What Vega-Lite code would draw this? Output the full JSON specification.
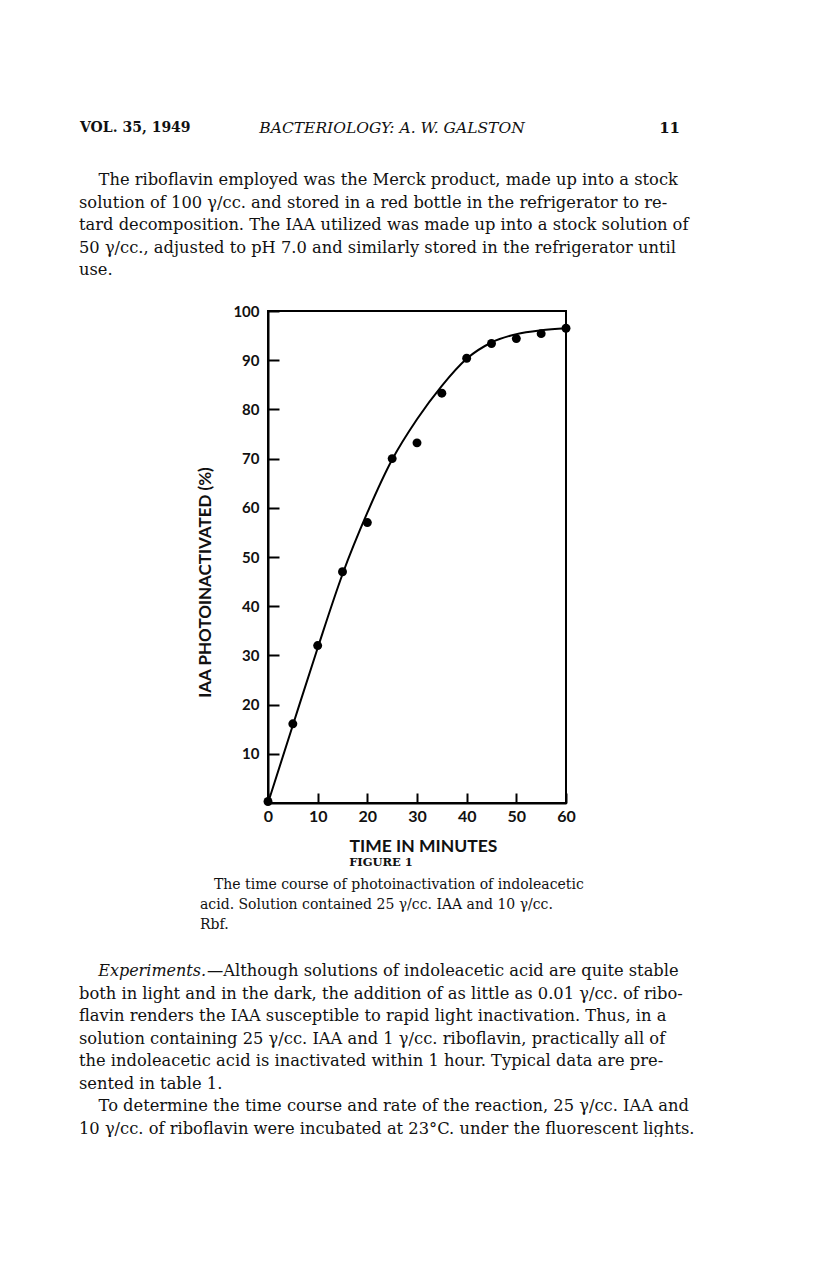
{
  "$schema": "https://vega.github.io/schema/vega-lite/v6.json",
  "width": 298,
  "height": 492,
  "padding": {"left": 79, "top": 121, "right": 0, "bottom": 0},
  "background": "white",
  "config": {
    "view": {"stroke": "black", "strokeWidth": 2},
    "text": {"color": "#111111", "baseline": "middle"}
  },
  "datasets": {
    "curve": [
      {"minutes": 0, "pct": 0},
      {"minutes": 5, "pct": 15.8},
      {"minutes": 10, "pct": 31.5},
      {"minutes": 15, "pct": 46.5},
      {"minutes": 20, "pct": 59},
      {"minutes": 25, "pct": 69.8},
      {"minutes": 30, "pct": 78},
      {"minutes": 35, "pct": 84.8},
      {"minutes": 40, "pct": 90.3},
      {"minutes": 45, "pct": 93.6},
      {"minutes": 50, "pct": 95.3},
      {"minutes": 55, "pct": 96.1},
      {"minutes": 60, "pct": 96.5}
    ],
    "obs": [
      {"minutes": 0, "pct": 0.3},
      {"minutes": 5, "pct": 16.1},
      {"minutes": 10, "pct": 32},
      {"minutes": 15, "pct": 47},
      {"minutes": 20, "pct": 57},
      {"minutes": 25, "pct": 70},
      {"minutes": 30, "pct": 73.2},
      {"minutes": 35, "pct": 83.3},
      {"minutes": 40, "pct": 90.4},
      {"minutes": 45, "pct": 93.4},
      {"minutes": 50, "pct": 94.4},
      {"minutes": 55, "pct": 95.4},
      {"minutes": 60, "pct": 96.5}
    ],
    "page": [
      {"block": "headLeft", "line": 1, "text": "VOL. 35, 1949"},
      {"block": "headCenter", "line": 1, "text": "BACTERIOLOGY: A. W. GALSTON"},
      {"block": "headRight", "line": 1, "text": "11"},
      {"block": "para1", "line": 1, "text": "\u200b\u2003\u2009The riboflavin employed was the Merck product, made up into a stock"},
      {"block": "para1", "line": 2, "text": "solution of 100 \u03b3/cc. and stored in a red bottle in the refrigerator to re-"},
      {"block": "para1", "line": 3, "text": "tard decomposition.  The IAA utilized was made up into a stock solution of"},
      {"block": "para1", "line": 4, "text": "50 \u03b3/cc., adjusted to pH 7.0 and similarly stored in the refrigerator until"},
      {"block": "para1", "line": 5, "text": "use."},
      {"block": "figure", "line": 1, "text": "FIGURE 1"},
      {"block": "caption", "line": 1, "text": "\u200b\u2003The time course of photoinactivation of indoleacetic"},
      {"block": "caption", "line": 2, "text": "acid.  Solution contained 25 \u03b3/cc. IAA and 10 \u03b3/cc."},
      {"block": "caption", "line": 3, "text": "Rbf."},
      {"block": "expItalic", "line": 1, "text": "\u200b\u2003\u2009Experiments."},
      {"block": "expRest", "line": 1, "text": "\u2014Although solutions of indoleacetic acid are quite stable"},
      {"block": "para2", "line": 2, "text": "both in light and in the dark, the addition of as little as 0.01 \u03b3/cc. of ribo-"},
      {"block": "para2", "line": 3, "text": "flavin renders the IAA susceptible to rapid light inactivation.  Thus, in a"},
      {"block": "para2", "line": 4, "text": "solution containing 25 \u03b3/cc. IAA and 1 \u03b3/cc. riboflavin, practically all of"},
      {"block": "para2", "line": 5, "text": "the indoleacetic acid is inactivated within 1 hour.  Typical data are pre-"},
      {"block": "para2", "line": 6, "text": "sented in table 1."},
      {"block": "para2", "line": 7, "text": "\u200b\u2003\u2009To determine the time course and rate of the reaction, 25 \u03b3/cc. IAA and"},
      {"block": "para2", "line": 8, "text": "10 \u03b3/cc. of riboflavin were incubated at 23\u00b0C. under the fluorescent lights."}
    ]
  },
  "resolve": {"scale": {"x": "independent", "y": "independent"}},
  "layer": [
    {
      "data": {"name": "curve"},
      "mark": {"type": "line", "interpolate": "monotone", "color": "black", "strokeWidth": 2},
      "encoding": {
        "x": {"field": "minutes", "type": "quantitative", "scale": {"domain": [0, 60], "nice": false}, "axis": null},
        "y": {"field": "pct", "type": "quantitative", "scale": {"domain": [0, 100], "nice": false}, "axis": null}
      }
    },
    {
      "data": {"name": "obs"},
      "mark": {"type": "circle", "size": 80, "color": "black", "opacity": 1},
      "encoding": {
        "x": {
          "field": "minutes", "type": "quantitative",
          "scale": {"domain": [0, 60], "nice": false},
          "axis": {
            "orient": "bottom", "values": [0, 10, 20, 30, 40, 50, 60], "grid": false,
            "tickSize": -10, "tickWidth": 2, "tickColor": "black",
            "domainColor": "black", "domainWidth": 2,
            "labelPadding": 15, "labelFlush": false, "labelOverlap": false,
            "labelFont": "Lato", "labelFontWeight": "bold", "labelFontSize": 16, "labelColor": "#111111",
            "title": "TIME IN MINUTES", "titleFont": "Lato", "titleFontWeight": "bold", "titleFontSize": 17.5,
            "titleColor": "#111111", "titlePadding": 13, "titleX": 155
          }
        },
        "y": {
          "field": "pct", "type": "quantitative",
          "scale": {"domain": [0, 100], "nice": false},
          "axis": {
            "orient": "left", "values": [10, 20, 30, 40, 50, 60, 70, 80, 90, 100], "grid": false,
            "tickSize": -11, "tickWidth": 2, "tickColor": "black",
            "domainColor": "black", "domainWidth": 2,
            "labelPadding": 20, "labelFlush": false, "labelOverlap": false,
            "labelFont": "Lato", "labelFontWeight": "bold", "labelFontSize": 15, "labelColor": "#111111",
            "title": "IAA PHOTOINACTIVATED (%)", "titleFont": "Lato", "titleFontWeight": "bold", "titleFontSize": 17,
            "titleColor": "#111111", "titlePadding": 18, "titleY": 271
          }
        }
      }
    },
    {
      "data": {"name": "page"},
      "transform": [{"filter": "datum.block === 'headLeft'"}],
      "mark": {"type": "text", "align": "left", "font": "DejaVu Serif", "fontSize": 14, "fontWeight": "bold"},
      "encoding": {
        "text": {"field": "text"},
        "x": {"datum": 0, "type": "quantitative", "scale": {"domain": [0, 1], "range": [-188, -88]}, "axis": null},
        "y": {"field": "line", "type": "quantitative", "scale": {"domain": [0, 1], "range": [-184, -183], "nice": false}, "axis": null}
      }
    },
    {
      "data": {"name": "page"},
      "transform": [{"filter": "datum.block === 'headCenter'"}],
      "mark": {"type": "text", "align": "center", "font": "DejaVu Serif", "fontSize": 15.5, "fontStyle": "italic"},
      "encoding": {
        "text": {"field": "text"},
        "x": {"datum": 0, "type": "quantitative", "scale": {"domain": [0, 1], "range": [124, 224]}, "axis": null},
        "y": {"field": "line", "type": "quantitative", "scale": {"domain": [0, 1], "range": [-184, -183], "nice": false}, "axis": null}
      }
    },
    {
      "data": {"name": "page"},
      "transform": [{"filter": "datum.block === 'headRight'"}],
      "mark": {"type": "text", "align": "right", "font": "DejaVu Serif", "fontSize": 15, "fontWeight": "bold"},
      "encoding": {
        "text": {"field": "text"},
        "x": {"datum": 0, "type": "quantitative", "scale": {"domain": [0, 1], "range": [412, 512]}, "axis": null},
        "y": {"field": "line", "type": "quantitative", "scale": {"domain": [0, 1], "range": [-184, -183], "nice": false}, "axis": null}
      }
    },
    {
      "data": {"name": "page"},
      "transform": [{"filter": "datum.block === 'para1'"}],
      "mark": {"type": "text", "align": "left", "font": "DejaVu Serif", "fontSize": 16.3},
      "encoding": {
        "text": {"field": "text"},
        "x": {"datum": 0, "type": "quantitative", "scale": {"domain": [0, 1], "range": [-189, -89]}, "axis": null},
        "y": {"field": "line", "type": "quantitative", "scale": {"domain": [1, 5], "range": [-131, -41], "nice": false}, "axis": null}
      }
    },
    {
      "data": {"name": "page"},
      "transform": [{"filter": "datum.block === 'figure'"}],
      "mark": {"type": "text", "align": "center", "font": "DejaVu Serif", "fontSize": 11.5, "fontWeight": "bold"},
      "encoding": {
        "text": {"field": "text"},
        "x": {"datum": 0, "type": "quantitative", "scale": {"domain": [0, 1], "range": [113, 213]}, "axis": null},
        "y": {"field": "line", "type": "quantitative", "scale": {"domain": [0, 1], "range": [551, 552], "nice": false}, "axis": null}
      }
    },
    {
      "data": {"name": "page"},
      "transform": [{"filter": "datum.block === 'caption'"}],
      "mark": {"type": "text", "align": "left", "font": "DejaVu Serif", "fontSize": 14},
      "encoding": {
        "text": {"field": "text"},
        "x": {"datum": 0, "type": "quantitative", "scale": {"domain": [0, 1], "range": [-68, 32]}, "axis": null},
        "y": {"field": "line", "type": "quantitative", "scale": {"domain": [1, 3], "range": [574, 614], "nice": false}, "axis": null}
      }
    },
    {
      "data": {"name": "page"},
      "transform": [{"filter": "datum.block === 'expItalic'"}],
      "mark": {"type": "text", "align": "left", "font": "DejaVu Serif", "fontSize": 16, "fontStyle": "italic"},
      "encoding": {
        "text": {"field": "text"},
        "x": {"datum": 0, "type": "quantitative", "scale": {"domain": [0, 1], "range": [-189, -89]}, "axis": null},
        "y": {"field": "line", "type": "quantitative", "scale": {"domain": [1, 8], "range": [660, 817.5], "nice": false}, "axis": null}
      }
    },
    {
      "data": {"name": "page"},
      "transform": [{"filter": "datum.block === 'expRest'"}],
      "mark": {"type": "text", "align": "left", "font": "DejaVu Serif", "fontSize": 16.3},
      "encoding": {
        "text": {"field": "text"},
        "x": {"datum": 0, "type": "quantitative", "scale": {"domain": [0, 1], "range": [-61, 39]}, "axis": null},
        "y": {"field": "line", "type": "quantitative", "scale": {"domain": [1, 8], "range": [660, 817.5], "nice": false}, "axis": null}
      }
    },
    {
      "data": {"name": "page"},
      "transform": [{"filter": "datum.block === 'para2'"}],
      "mark": {"type": "text", "align": "left", "font": "DejaVu Serif", "fontSize": 16.3},
      "encoding": {
        "text": {"field": "text"},
        "x": {"datum": 0, "type": "quantitative", "scale": {"domain": [0, 1], "range": [-189, -89]}, "axis": null},
        "y": {"field": "line", "type": "quantitative", "scale": {"domain": [1, 8], "range": [660, 817.5], "nice": false}, "axis": null}
      }
    }
  ]
}
